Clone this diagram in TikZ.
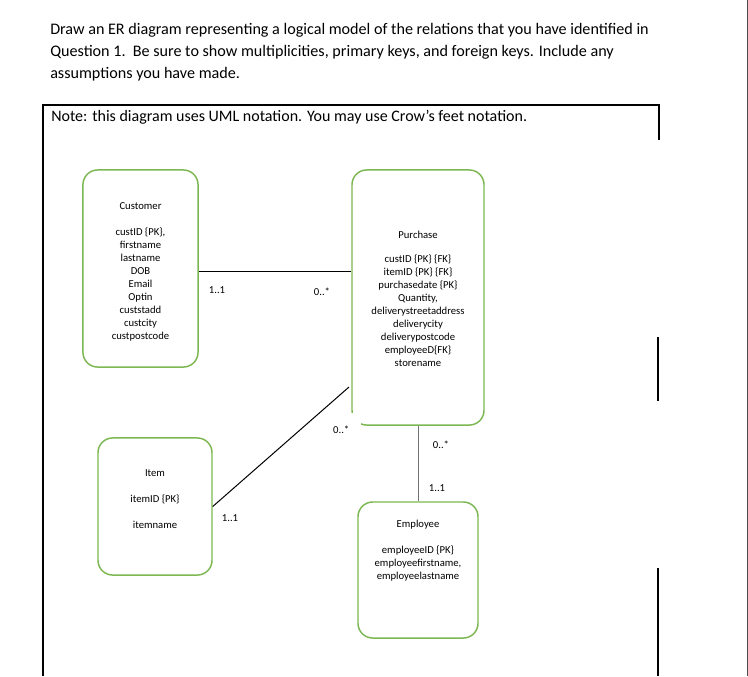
\documentclass[tikz,border=0pt]{standalone}
\usepackage{fontspec}
\setmainfont{Carlito}
\usetikzlibrary{positioning}
\definecolor{entgreen}{RGB}{125,183,82}

\begin{document}
\begin{tikzpicture}[x=0.75pt, y=-0.75pt,
  ent/.style={draw=entgreen, line width=1.1pt, rounded corners=11pt, inner sep=0pt},
  attr/.style={align=center, inner sep=0pt, font=\fontsize{8}{9.75}\selectfont},
  mult/.style={inner sep=0pt, font=\fontsize{8}{9}\selectfont},
  rel/.style={line width=0.75pt},
  frame/.style={line width=1.2pt}]
  \useasboundingbox (0,0) rectangle (748,676);
  % question and answer frame
  \node[anchor=north west, align=left, inner sep=0pt, font=\fontsize{12.1}{16.5}\selectfont] (quest) at (50,23)
    {Draw an ER diagram representing a logical model of the relations that you have identified in\\
     Question 1.\ \ Be sure to show multiplicities, primary keys, and foreign keys. Include any\\
     assumptions you have made.};
  \draw[frame] (43,676) -- (43,105) -- (659,105) -- (659,140);
  \draw[frame] (658,337) -- (658,401);
  \draw[frame] (658,568) -- (658,676);
  \draw[black!70] (747,0) -- (747,676);
  \node[anchor=west, inner sep=0pt, font=\fontsize{12}{13}\selectfont] (note) at (51,117)
    {Note: this diagram uses UML notation. You may use Crow’s feet notation.};
  % entities
  \node[ent, minimum width=86.3pt, minimum height=147.8pt] (cust) at (140.5,268.5) {};
  \node[ent, minimum width=99pt, minimum height=191.3pt] (purch) at (418,297.5) {};
  \node[ent, minimum width=85.5pt, minimum height=102.8pt] (item) at (155,506.5) {};
  \node[ent, minimum width=90pt, minimum height=102pt] (emp) at (418,570) {};
  \node[attr] (custattr) at (140.5,271.5) {Customer\\[9.75pt]custID \{PK\},\\firstname\\lastname\\DOB\\Email\\Optin\\custstadd\\custcity\\custpostcode};
  \node[attr] (purchattr) at (418,299) {Purchase\\[8.5pt]custID \{PK\} \{FK\}\\itemID \{PK\} \{FK\}\\purchasedate \{PK\}\\Quantity,\\deliverystreetaddress\\deliverycity\\deliverypostcode\\employeeD\{FK\}\\storename};
  \node[attr] (itemattr) at (155,499.5) {Item\\[9.75pt]itemID \{PK\}\\[9.75pt]itemname};
  \node[attr] (empattr) at (418,550.5) {Employee\\[9.75pt]employeeID \{PK\}\\employeefirstname,\\employeelastname};
  % multiplicities
  \node[mult] (cp1) at (217,290) {1..1};
  \node[mult] (cp2) at (322,292) {0..*};
  \node[mult] (ip1) at (230,518) {1..1};
  \node[mult, fill=white, anchor=north east, minimum width=30pt, minimum height=24pt] (ip2) at (361.5,413) {0..*};
  \node[mult] (pe1) at (441,445) {0..*};
  \node[mult] (pe2) at (437,488) {1..1};
  % relations
  \coordinate (ipend) at (349,387);
  \draw[rel] ([yshift=-2pt]cust.east) -- ([yshift=-2pt]cust.east -| purch.west);
  \draw[rel] (item.east) -- (ipend);
  \draw[rel, black!55] (purch.south) -- (emp.north);
\end{tikzpicture}
\end{document}
